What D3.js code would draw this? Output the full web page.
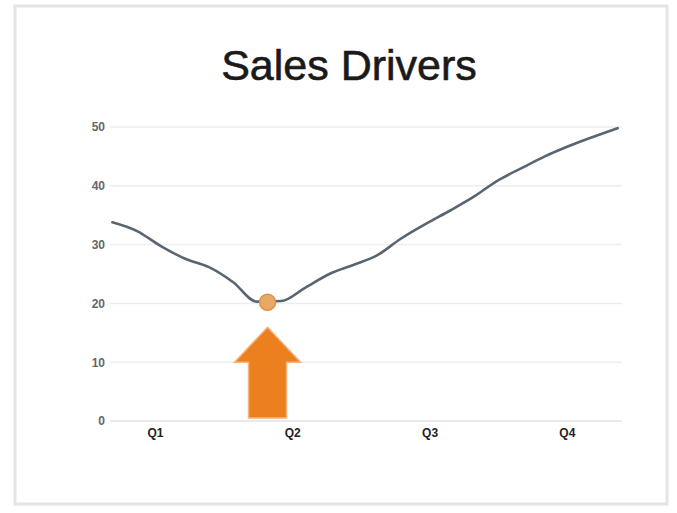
<!DOCTYPE html>
<html><head><meta charset="utf-8">
<script src="https://cdn.jsdelivr.net/npm/d3@7"></script>
<style>body{margin:0;background:#fff}svg{display:block}</style>
</head><body>
<div id="chart"></div>
<script>
// Data
const title = "Sales Drivers";
const quarters = ["Q1", "Q2", "Q3", "Q4"];
const yTicks = [0, 10, 20, 30, 40, 50];
// position along the year in quarter units (0..4) and sales value
const pointPos = [0.19, 0.37, 0.54, 0.72, 0.89, 1.07, 1.24, 1.42, 1.59, 1.77, 1.94, 2.12, 2.29, 2.47, 2.65, 2.82, 2.99, 3.17, 3.34, 3.52, 3.69, 3.87];
const sales    = [33.8, 32.3, 29.8, 27.6, 26.2, 23.6, 20.3, 20.4, 22.6, 25.0, 26.5, 28.2, 31.0, 33.5, 35.8, 38.1, 40.8, 43.0, 45.0, 46.8, 48.3, 49.8];
const highlightPos = [1.32];
const highlightVal = [20.2];

const W = 677, H = 513;
const svg = d3.select("#chart").append("svg").attr("width", W).attr("height", H);

// frame
svg.append("rect").attr("x", 15).attr("y", 6).attr("width", 652).attr("height", 498)
  .attr("fill", "#fff").attr("stroke", "#e4e4e4").attr("stroke-width", 3);

const x = d3.scaleLinear().domain([0, 4]).range([86.3, 635.5]);
const y = d3.scaleLinear().domain([0, 50]).range([421, 127]);

svg.append("text").attr("x", 349).attr("y", 80).attr("text-anchor", "middle")
  .attr("font-family", "Liberation Sans, Arial, sans-serif").attr("font-size", 43)
  .attr("fill", "#1a1a1a").attr("stroke", "#1a1a1a").attr("stroke-width", 0.6).text(title);

// gridlines
svg.append("g").selectAll("line").data(yTicks).join("line")
  .attr("x1", 110).attr("x2", 622)
  .attr("y1", d => y(d)).attr("y2", d => y(d))
  .attr("stroke", d => d === 0 ? "#e2e2e2" : "#ededed").attr("stroke-width", 1.5);

// y labels
const yAxis = d3.axisLeft(y).tickValues(yTicks).tickSize(0).tickPadding(0);
const gy = svg.append("g").attr("transform", "translate(105,0)").call(yAxis);
gy.select(".domain").remove();
gy.selectAll("text").attr("font-family", "Liberation Sans, Arial, sans-serif")
  .attr("font-size", 12).attr("fill", "#666").attr("font-weight", "bold");

// x labels
const xAxis = d3.axisBottom(x).tickValues(quarters.map((q, i) => i + 0.5))
  .tickFormat((d, i) => quarters[i]).tickSize(0).tickPadding(0);
const gx = svg.append("g").attr("transform", "translate(0,428)").call(xAxis);
gx.select(".domain").remove();
gx.selectAll("text").attr("font-family", "Liberation Sans, Arial, sans-serif")
  .attr("font-size", 12).attr("fill", "#222").attr("font-weight", "bold");

// line
const line = d3.line().x((d, i) => x(pointPos[i])).y(d => y(d)).curve(d3.curveMonotoneX);
svg.append("path").datum(sales).attr("d", line)
  .attr("fill", "none").attr("stroke", "#5b6570").attr("stroke-width", 2.6)
  .attr("stroke-linejoin", "round").attr("stroke-linecap", "round");

// highlight marker
svg.append("g").selectAll("circle").data(highlightVal).join("circle")
  .attr("cx", (d, i) => x(highlightPos[i])).attr("cy", d => y(d)).attr("r", 8)
  .attr("fill", "#e8a966").attr("stroke", "#e39045").attr("stroke-width", 1.5);

// arrow pointing at the minimum
const ax = x(highlightPos[0]);
const tipY = y(highlightVal[0]) + 25, headY = tipY + 35, baseY = y(0) - 3;
svg.append("path")
  .attr("d", `M${ax},${tipY} L${ax + 33},${headY} L${ax + 19},${headY} L${ax + 19},${baseY} L${ax - 19},${baseY} L${ax - 19},${headY} L${ax - 33},${headY} Z`)
  .attr("fill", "#ec7f1e").attr("stroke", "#f6b27a").attr("stroke-width", 1.5);
</script>
</body></html>
